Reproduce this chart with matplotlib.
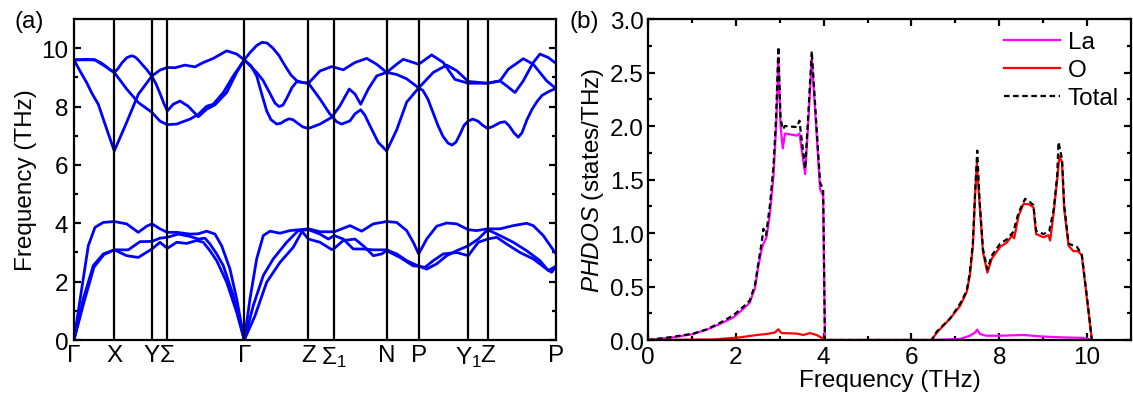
import numpy as np
import matplotlib
matplotlib.use("Agg")
import matplotlib.pyplot as plt

plt.rcParams['font.family'] = ['Liberation Sans', 'DejaVu Sans']
plt.rcParams['mathtext.fontset'] = 'custom'
plt.rcParams['mathtext.rm'] = 'Liberation Sans'
plt.rcParams['mathtext.it'] = 'Liberation Sans:italic'

# high-symmetry path (distance along path, arbitrary units)
kpts = [0, 40.3, 78, 93.3, 170.3, 234.5, 260.3, 312.7, 344.7, 394.3, 413.7, 482]
klabels = ['Γ', 'X', 'Y', 'Σ', 'Γ', 'Z', 'Σ$_1$', 'N', 'P', 'Y$_1$', 'Z', 'P']

# optical branches (THz)
opt1_k = [0, 14, 21, 27, 31, 36, 40.3, 44, 48, 53, 57.7, 61, 64.3, 68, 72.7, 78, 82, 86, 90, 93.3,
          99.3, 106, 114.3, 124.3, 132.7, 141, 152.7, 162.7, 170.3,
          176, 183, 188, 193, 199, 205, 211, 217, 223, 229, 234.5,
          246, 257.7, 269.3, 281, 292.7, 302.7, 312.7, 322.7, 329.3, 344.7, 357.7, 369.3, 381, 394.3,
          413.7, 426, 434.3, 449.3, 459.3, 472.7, 482]
opt1_f = [9.6, 9.62, 9.6, 9.5, 9.4, 9.26, 9.17, 9.3, 9.5, 9.68, 9.74, 9.7, 9.6, 9.45, 9.27, 9.03, 8.78, 8.45, 8.1, 7.85,
          8.08, 8.19, 8.01, 7.65, 7.91, 8.06, 8.48, 9.17, 9.6,
          9.85, 10.1, 10.2, 10.18, 10.0, 9.75, 9.4, 9.08, 8.88, 8.82, 8.8,
          9.22, 9.37, 9.26, 9.51, 9.65, 9.45, 9.17, 9.45, 9.62, 9.45, 9.77, 9.51, 8.93, 8.8,
          8.8, 8.88, 9.28, 9.64, 9.45, 8.88, 8.62]

opt2_k = [0, 21, 31, 40.3, 52.7, 64.3, 78, 86, 93.3, 102.7, 116, 124.3, 132.7, 139.3, 149.3, 159.3, 170.3,
          182.7, 189, 196, 201, 205, 209, 213, 218, 222.7, 228, 234.5,
          246, 256, 262.7, 267.7, 276, 281, 286.7, 291, 296, 304.3, 312.7,
          322.7, 332.7, 344.7, 349, 354, 359, 364, 369, 374, 378, 382, 386, 390, 394.3, 399, 404, 409, 413.7,
          419, 426, 431, 435, 440, 444.3, 448, 453, 458, 463, 468, 475, 482]
opt2_f = [9.6, 9.6, 9.38, 9.17, 8.6, 8.14, 7.8, 7.5, 7.38, 7.4, 7.57, 7.73, 8.01, 8.08, 8.48, 9.05, 9.6,
          9.17, 8.9, 8.45, 8.12, 8.0, 8.05, 8.3, 8.65, 8.85, 8.83, 8.8,
          8.26, 7.74, 7.48, 7.4, 7.51, 7.75, 7.89, 7.7, 7.34, 6.77, 6.48,
          7.2, 8.15, 8.64, 8.55, 8.25, 7.8, 7.35, 6.98, 6.75, 6.68, 6.78, 7.05, 7.35, 7.51, 7.57, 7.5, 7.35, 7.25,
          7.32, 7.45, 7.48, 7.35, 7.1, 6.95, 7.1, 7.55, 7.9, 8.17, 8.38, 8.52, 8.62]

opt3_k = [0, 6, 12.7, 18, 24.3, 32.7, 40.3, 52.7, 64.3, 78, 86, 93.3, 101, 111, 121, 129.3, 139.3, 152.7,
          162.7, 170.3,
          177, 182.7, 188, 192.7, 197, 202.7, 207, 211, 215, 219, 224, 229, 234.5,
          246, 257.7, 266, 275.3, 281, 286.7, 294.3, 302.7, 312.7, 322.7, 332.7, 344.7, 359.3, 372.7, 382.7,
          394.3, 413.7, 426, 432.7, 441, 449.3, 459.3, 466, 474.3, 482]
opt3_f = [9.6, 9.22, 8.82, 8.45, 8.08, 7.23, 6.48, 7.46, 8.42, 9.05, 9.25, 9.34, 9.33, 9.42, 9.36, 9.51, 9.65, 9.91,
          9.8, 9.6,
          9.4, 9.05, 8.4, 7.85, 7.55, 7.4, 7.43, 7.52, 7.58, 7.55, 7.42, 7.3, 7.25,
          7.4, 7.63, 8.03, 8.6, 8.43, 8.08, 8.6, 9.05, 9.17, 9.1, 8.95, 8.64, 9.17, 9.42, 9.23,
          8.86, 8.8, 8.88, 8.71, 8.48, 8.88, 9.51, 9.8, 9.68, 9.48]

# acoustic branches (THz)
ac1_k = [0, 7.7, 14.3, 21, 29.3, 40.3, 52.7, 64.3, 72.7, 78, 86, 93.3, 102.7, 116, 124.3, 132.7, 141, 147.7,
         156, 162.7, 170.3, 176, 182.7, 189.3, 196, 206, 216, 234.5, 246, 260.3, 276, 287.7, 299.3, 312.7,
         322.7, 332.7, 339.3, 344.7, 352.7, 362.7, 372.7, 382.7, 394.3, 402.7, 413.7, 426, 439.3, 452.7,
         459.3, 469.3, 482]
ac1_f = [0, 1.75, 3.23, 3.86, 4.03, 4.06, 3.98, 3.69, 3.9, 3.98, 3.81, 3.69, 3.69, 3.63, 3.64, 3.73, 3.63, 3.23,
         2.43, 1.41, 0, 1.41, 2.78, 3.58, 3.73, 3.66, 3.75, 3.81, 3.71, 3.71, 3.92, 3.73, 3.98, 4.06,
         4.03, 3.75, 3.35, 2.95, 3.46, 3.9, 4.01, 3.98, 3.78, 3.75, 3.81, 3.81, 3.92, 4.0,
         3.92, 3.58, 2.95]

ac2_k = [0, 9.3, 19.3, 29.3, 40.3, 54.3, 66, 78, 86, 93.3, 104.3, 116, 124.3, 131, 136, 142.7, 149.3, 159.3,
         170.3, 179.3, 189.3, 199.3, 212.7, 224.3, 234.5, 246, 254.3, 260.3, 269.3, 279.3, 289.3, 299.3,
         312.7, 322.7, 332.7, 344.7, 352.7, 362.7, 372.7, 382.7, 394.3, 404.3, 413.7, 426, 439.3, 452.7,
         466, 474.3, 482]
ac2_f = [0, 1.41, 2.55, 2.95, 3.09, 3.09, 3.37, 3.38, 3.49, 3.52, 3.63, 3.55, 3.46, 3.49, 3.29, 2.95, 2.55, 1.52,
         0, 1.18, 2.21, 2.78, 3.35, 3.75, 3.78, 3.63, 3.46, 3.58, 3.46, 3.12, 3.12, 3.09,
         3.09, 2.95, 2.72, 2.53, 2.43, 2.61, 2.89, 3.06, 3.23, 3.46, 3.78, 3.58, 3.35, 3.06,
         2.72, 2.38, 2.53]

ac3_k = [0, 10, 20, 30, 40.3, 52.7, 64.3, 78, 86, 93.3, 102.7, 112.7, 122.7, 129.3, 136, 142.7, 152.7, 162.7,
         170.3, 181, 192.7, 206, 219.3, 228, 234.5, 246, 257.7, 260.3, 269.3, 281, 291, 299.3, 307.7,
         312.7, 326, 339.3, 344.7, 351, 359.3, 369.3, 382.7, 394.3, 404.3, 413.7, 422.7, 432.7, 446,
         459.3, 472.7, 477.7, 482]
ac3_f = [0, 1.3, 2.5, 2.93, 3.09, 2.89, 2.83, 3.12, 3.35, 3.14, 3.35, 3.31, 3.41, 3.35, 3.06, 2.72, 1.98, 0.95,
         0, 0.83, 1.98, 2.66, 3.18, 3.72, 3.46, 3.35, 3.1, 3.14, 3.41, 3.46, 3.18, 2.89, 2.95,
         3.06, 2.83, 2.54, 2.53, 2.49, 2.72, 2.95, 3.0, 2.89, 3.35, 3.46, 3.52, 3.29, 3.0,
         2.78, 2.43, 2.32, 2.53]

# phonon DOS (states/THz)
la_f = [0, 0.58, 1.03, 1.34, 1.64, 1.94, 2.17, 2.32, 2.44, 2.51, 2.59, 2.63, 2.70, 2.78, 2.86, 2.92, 2.97,
        3.02, 3.07, 3.12, 3.39, 3.45, 3.58, 3.65, 3.73, 3.80, 3.92, 3.99, 4.03, 6.46, 7.11, 7.33, 7.45,
        7.50, 7.56, 7.71, 8.02, 8.55, 8.93, 9.39, 9.92, 10.11]
la_d = [0, 0.025, 0.056, 0.097, 0.15, 0.21, 0.29, 0.35, 0.49, 0.68, 0.85, 0.90, 0.96, 1.19, 1.54, 2.0, 2.64,
        2.0, 1.79, 1.93, 1.91, 1.93, 1.55, 2.03, 2.63, 2.19, 1.41, 1.35, 0, 0, 0.01, 0.04, 0.07,
        0.097, 0.056, 0.04, 0.04, 0.047, 0.034, 0.025, 0.02, 0]

o_f = [0, 1.5, 2.1, 2.48, 2.70, 2.89, 2.97, 3.04, 3.39, 3.54, 3.69, 3.84, 3.98, 4.05, 6.46, 6.58, 6.88, 7.11,
       7.26, 7.33, 7.40, 7.45, 7.49, 7.55, 7.63, 7.73, 7.83, 8.02, 8.17, 8.30, 8.34, 8.44, 8.55, 8.67,
       8.78, 8.84, 9.01, 9.12, 9.16, 9.24, 9.32, 9.37, 9.43, 9.48, 9.58, 9.69, 9.80, 9.88, 9.99, 10.11]
o_d = [0, 0.005, 0.025, 0.047, 0.056, 0.07, 0.10, 0.065, 0.06, 0.047, 0.065, 0.047, 0.016, 0, 0, 0.07, 0.20, 0.32,
       0.45, 0.60, 0.88, 1.35, 1.65, 1.29, 0.82, 0.63, 0.76, 0.87, 0.91, 0.98, 0.95, 1.16, 1.27, 1.27,
       1.24, 0.99, 0.96, 0.98, 0.93, 1.19, 1.50, 1.72, 1.66, 1.22, 0.88, 0.83, 0.83, 0.79, 0.41, 0]

tot_f = [0, 0.58, 1.03, 1.34, 1.64, 1.94, 2.17, 2.32, 2.44, 2.51, 2.59, 2.63, 2.69, 2.78, 2.86, 2.92, 2.97,
         3.02, 3.07, 3.12, 3.39, 3.45, 3.58, 3.65, 3.73, 3.80, 3.92, 3.99, 4.03, 6.46, 6.58, 6.88, 7.11,
         7.26, 7.33, 7.40, 7.45, 7.50, 7.55, 7.63, 7.73, 7.83, 8.02, 8.17, 8.32, 8.44, 8.59, 8.70, 8.78,
         8.84, 9.01, 9.14, 9.24, 9.32, 9.35, 9.43, 9.48, 9.58, 9.77, 9.88, 9.99, 10.11]
tot_d = [0, 0.03, 0.06, 0.10, 0.16, 0.23, 0.31, 0.37, 0.52, 0.71, 0.91, 1.04, 0.98, 1.27, 1.63, 2.10, 2.74,
         2.07, 1.97, 2.0, 1.99, 2.05, 1.60, 2.10, 2.70, 2.25, 1.47, 1.41, 0, 0, 0.08, 0.20, 0.34,
         0.46, 0.63, 0.91, 1.38, 1.77, 1.32, 0.85, 0.66, 0.79, 0.90, 0.94, 1.01, 1.19, 1.32, 1.29, 1.26,
         1.02, 0.99, 1.02, 1.22, 1.54, 1.85, 1.69, 1.26, 0.90, 0.87, 0.80, 0.43, 0]

fs = 17.5
fig = plt.figure(figsize=(11.33, 4.02), dpi=100)

# (a) dispersion
ax1 = fig.add_axes([0.0653, 0.1517, 0.4254, 0.7985])
for kk, ff in [(opt1_k, opt1_f), (opt2_k, opt2_f), (opt3_k, opt3_f),
               (ac1_k, ac1_f), (ac2_k, ac2_f), (ac3_k, ac3_f)]:
    ax1.plot(kk, ff, color='#0000ff', lw=2.0, solid_joinstyle='round', solid_capstyle='round')
for k in kpts[1:-1]:
    ax1.axvline(k, color='black', lw=1.6, zorder=3)
ax1.set_xlim(kpts[0], kpts[-1])
ax1.set_ylim(0, 11)
ax1.set_xticks(kpts)
ax1.set_xticklabels(klabels)
ax1.set_yticks(np.arange(0, 11, 2))
ax1.set_yticks(np.arange(1, 11, 2), minor=True)
ax1.tick_params(axis='x', length=0, pad=3, labelsize=fs)
ax1.tick_params(axis='y', which='both', direction='in', right=True, labelsize=fs, pad=4)
ax1.tick_params(axis='y', which='major', length=5, width=1.6)
ax1.tick_params(axis='y', which='minor', length=3, width=1.6)
ax1.set_ylabel('Frequency (THz)', fontsize=fs, labelpad=3)
for s in ax1.spines.values():
    s.set_linewidth(1.6)
fig.text(0.026, 0.945, '(a)', fontsize=fs, ha='center', va='center')

# (b) PHDOS
ax2 = fig.add_axes([0.5719, 0.1517, 0.4263, 0.7985])
ax2.plot(la_f, la_d, color='#ff00ff', lw=1.6, label='La')
ax2.plot(o_f, o_d, color='#ff0000', lw=1.6, label='O')
ax2.plot(tot_f, tot_d, color='black', lw=1.6, ls=(0, (2.5, 1.6)), label='Total')
ax2.set_xlim(0, 11)
ax2.set_ylim(0, 3)
ax2.set_xticks(np.arange(0, 11, 2))
ax2.set_xticks(np.arange(1, 11, 2), minor=True)
ax2.set_yticks(np.arange(0, 3.01, 0.5))
ax2.set_yticks(np.arange(0.25, 3, 0.5), minor=True)
ax2.set_yticklabels(['%.1f' % v for v in np.arange(0, 3.01, 0.5)])
ax2.tick_params(which='both', direction='in', top=True, right=True, labelsize=fs)
ax2.tick_params(axis='y', pad=3)
ax2.tick_params(axis='x', pad=4)
ax2.tick_params(which='major', length=5, width=1.6)
ax2.tick_params(which='minor', length=3, width=1.6)
ax2.set_xlabel('Frequency (THz)', fontsize=fs, labelpad=1)
ax2.set_ylabel('$PHDOS$ (states/THz)', fontsize=fs, labelpad=3)
for s in ax2.spines.values():
    s.set_linewidth(1.6)
ax2.legend(loc='upper right', frameon=False, fontsize=fs, handlelength=2.3,
           handletextpad=0.3, labelspacing=0.25, borderaxespad=0.1)
fig.text(0.516, 0.945, '(b)', fontsize=fs, ha='center', va='center')

plt.savefig('out.png', dpi=100)
